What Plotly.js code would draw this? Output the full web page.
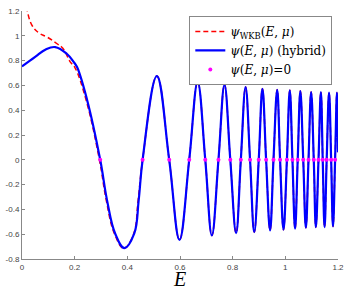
<!DOCTYPE html>
<html>
<head>
<meta charset="utf-8">
<script src="https://cdn.plot.ly/plotly-3.0.1.min.js"></script>
<style>html,body{margin:0;padding:0;background:#fff;}#plot{width:349px;height:290px;}</style>
</head>
<body>
<div id="plot"></div>
<script>
// ---- data ----
// hybrid psi(E,mu), first lobes (before the shared oscillating tail)
const hybridHeadE   = [0.000, 0.050, 0.090, 0.126, 0.170, 0.196, 0.209, 0.247, 0.297, 0.323, 0.354, 0.389, 0.426, 0.443];
const hybridHeadPsi = [0.753, 0.830, 0.890, 0.909, 0.855, 0.790, 0.748, 0.485, 0.000, -0.327, -0.596, -0.712, -0.596, -0.327];
// WKB approximation, first lobes (diverges near E=0)
const wkbHeadE   = [0.012, 0.019, 0.038, 0.063, 0.095, 0.133, 0.155, 0.183, 0.200, 0.243, 0.294, 0.320, 0.351, 0.387, 0.424, 0.441];
const wkbHeadPsi = [1.300, 1.210, 1.084, 1.025, 0.990, 0.936, 0.900, 0.790, 0.748, 0.485, 0.000, -0.327, -0.596, -0.715, -0.596, -0.327];
// oscillating tail where both curves coincide (zeros and extrema)
const tailE   = [0.458, 0.512, 0.559, 0.598, 0.635, 0.667, 0.696, 0.721, 0.746, 0.769, 0.791, 0.813, 0.831, 0.849, 0.866, 0.882,
                 0.899, 0.913, 0.927, 0.942, 0.955, 0.969, 0.980, 0.993, 1.006, 1.017, 1.027, 1.037, 1.047, 1.057, 1.068, 1.078,
                 1.088, 1.098, 1.108, 1.116, 1.126, 1.135, 1.142, 1.149, 1.157, 1.166, 1.174, 1.181, 1.189, 1.196, 1.200];
const tailPsi = [0, 0.675, 0, -0.645, 0, 0.627, 0, -0.610, 0, 0.605, 0, -0.591, 0, 0.587, 0, -0.583,
                 0, 0.573, 0, -0.569, 0, 0.565, 0, -0.564, 0, 0.560, 0, -0.556, 0, 0.554, 0, -0.548,
                 0, 0.546, 0, -0.543, 0, 0.546, 0, -0.543, 0, 0.541, 0, -0.537, 0, 0.541, 0.060];
// zeros of psi(E,mu)
const zerosE = [0.297, 0.458, 0.559, 0.635, 0.696, 0.746, 0.791, 0.831, 0.866, 0.899, 0.927, 0.955,
                0.980, 1.006, 1.027, 1.047, 1.068, 1.088, 1.108, 1.126, 1.142, 1.157, 1.174, 1.189];
const zerosPsi = zerosE.map(() => 0);
// ticks
const xTickVals = [0, 0.2, 0.4, 0.6, 0.8, 1, 1.2];
const xTickText = ['0', '0.2', '0.4', '0.6', '0.8', '1', '1.2'];
const yTickVals = [-0.8, -0.6, -0.4, -0.2, 0, 0.2, 0.4, 0.6, 0.8, 1, 1.2];
const yTickText = ['-0.8', '-0.6', '-0.4', '-0.2', '0', '0.2', '0.4', '0.6', '0.8', '1', '1.2'];

const traces = [
  {
    x: wkbHeadE.concat(tailE), y: wkbHeadPsi.concat(tailPsi),
    type: 'scatter', mode: 'lines',
    name: '<i>ψ</i><sub>WKB</sub>(<i>E</i>, <i>μ</i>)',
    line: {color: '#ff0000', width: 1.5, dash: '5px,3px', shape: 'spline', smoothing: 1.15}
  },
  {
    x: hybridHeadE.concat(tailE), y: hybridHeadPsi.concat(tailPsi),
    type: 'scatter', mode: 'lines',
    name: '<i>ψ</i>(<i>E</i>, <i>μ</i>) (hybrid)',
    line: {color: '#0000ff', width: 2.2, shape: 'spline', smoothing: 1.15}
  },
  {
    x: zerosE, y: zerosPsi,
    type: 'scatter', mode: 'markers',
    name: '<i>ψ</i>(<i>E</i>, <i>μ</i>)=0',
    marker: {color: '#ff00ff', size: 4}
  }
];

const axisCommon = {
  tickmode: 'array', ticks: 'inside', ticklen: 3, tickcolor: '#888', tickwidth: 1,
  showline: true, linecolor: '#888', linewidth: 1, mirror: false,
  showgrid: false, zeroline: false, automargin: false,
  tickfont: {family: 'Liberation Sans, Arial, sans-serif', size: 8, color: '#444'}
};

const layout = {
  width: 349, height: 290,
  margin: {l: 22, r: 11, t: 11, b: 31, pad: 0},
  paper_bgcolor: '#ffffff', plot_bgcolor: '#ffffff',
  showlegend: true,
  xaxis: Object.assign({}, axisCommon, {
    range: [0, 1.2], tickvals: xTickVals, ticktext: xTickText,
    title: {text: '<i>E</i>', font: {family: 'Liberation Serif, serif', size: 20, color: '#000'}, standoff: 3}
  }),
  yaxis: Object.assign({}, axisCommon, {
    range: [-0.8, 1.2], tickvals: yTickVals, ticktext: yTickText
  }),
  legend: {
    x: 0.982, y: 0.98, xanchor: 'right', yanchor: 'top',
    bgcolor: '#ffffff', bordercolor: '#888', borderwidth: 1,
    font: {family: 'DejaVu Serif, serif', size: 12, color: '#000'},
    itemwidth: 30, tracegroupgap: 0
  }
};

Plotly.newPlot('plot', traces, layout, {displayModeBar: false, staticPlot: true});
</script>
</body>
</html>
